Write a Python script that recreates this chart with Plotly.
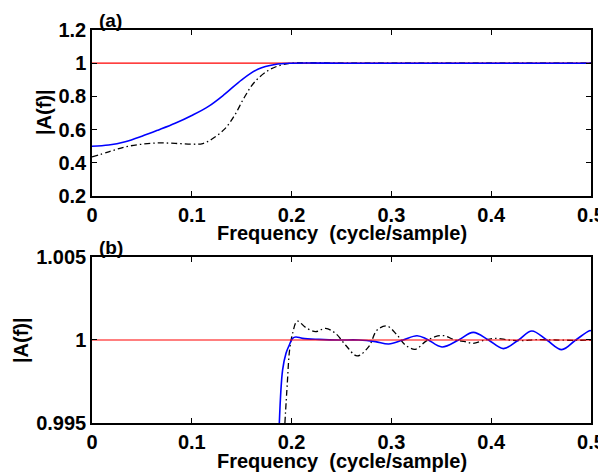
import plotly.graph_objects as go
from plotly.subplots import make_subplots

# ---- data: panel (a) ----
fa_blue = [0.0, 0.0167, 0.0333, 0.05, 0.0667, 0.0833, 0.1, 0.1167, 0.1333, 0.15, 0.1667, 0.1833, 0.2, 0.25, 0.3, 0.4, 0.5]
a_blue = [0.500, 0.507, 0.527, 0.560, 0.598, 0.638, 0.685, 0.740, 0.815, 0.900, 0.965, 0.992, 1.0, 1.0, 1.0, 1.0, 1.0]
fa_black = [0.0, 0.0167, 0.0333, 0.05, 0.0667, 0.0833, 0.1, 0.111, 0.121, 0.1333, 0.143, 0.153, 0.163, 0.177, 0.19, 0.2, 0.25, 0.3, 0.4, 0.5]
a_black = [0.435, 0.466, 0.496, 0.512, 0.520, 0.517, 0.512, 0.516, 0.546, 0.606, 0.687, 0.798, 0.887, 0.958, 0.990, 1.0, 1.0, 1.0, 1.0, 1.0]

# ---- data: panel (b) (zoom near 1) ----
fb_blue = [0.1877, 0.191, 0.1944, 0.1977, 0.201, 0.2043, 0.211, 0.2273, 0.2473, 0.2673, 0.284, 0.2973,
           0.3115, 0.3257, 0.3357, 0.3507, 0.3673, 0.382, 0.3973, 0.4123, 0.4273, 0.4407, 0.4557, 0.4707,
           0.4847, 0.4985, 0.5]
b_blue = [0.9950, 0.9982, 0.9992, 0.9997, 1.0001, 1.00018, 1.0001, 1.00004, 1.00000, 1.00000, 0.99990, 0.99976,
          1.0000, 1.00026, 1.00005, 0.99958, 1.00000, 1.00046, 1.00000, 0.99948, 1.00000, 1.00054, 1.00000, 0.99942,
          1.00000, 1.00056, 1.00055]
fb_black = [0.1933, 0.1957, 0.198, 0.201, 0.2057, 0.214, 0.224, 0.234, 0.244, 0.254, 0.2657, 0.2773, 0.2857,
            0.2957, 0.3057, 0.314, 0.324, 0.334, 0.344, 0.3527, 0.3637, 0.3737, 0.382, 0.394, 0.404, 0.4177,
            0.431, 0.4443, 0.4643, 0.4843, 0.5]
b_black = [0.9950, 0.9974, 0.9994, 1.0004, 1.00114, 1.00076, 1.0005, 1.0007, 1.0004, 0.9997, 0.99904, 0.9996, 1.0006,
           1.00084, 1.0003, 0.9997, 0.99944, 0.9999, 1.0002, 1.00026, 1.0000, 0.9999, 0.9998, 1.0000, 1.0001, 1.0000,
           0.99996, 1.00002, 1.0, 0.99998, 1.0]

ref_f = [0.0, 0.5]
ref_v = [1.0, 1.0]

xticks = [0, 0.1, 0.2, 0.3, 0.4, 0.5]
xticktext = ["<b>0</b>", "<b>0.1</b>", "<b>0.2</b>", "<b>0.3</b>", "<b>0.4</b>", "<b>0.5</b>"]
ya_ticks = [0.2, 0.4, 0.6, 0.8, 1.0, 1.2]
ya_text = ["<b>0.2</b>", "<b>0.4</b>", "<b>0.6</b>", "<b>0.8</b>", "<b>1</b>", "<b>1.2</b>"]
yb_ticks = [0.995, 1.0, 1.005]
yb_text = ["<b>0.995</b>", "<b>1</b>", "<b>1.005</b>"]

FONT = "Liberation Sans, Arial, sans-serif"
DASHDOT = "6px,3px,1.5px,3px"

# the page body has an 8px default margin, so the figure is 8px smaller
W, H = 598, 464
OFF = 8

fig = make_subplots(rows=2, cols=1, vertical_spacing=0.155)

# panel (a)
fig.add_trace(go.Scatter(x=ref_f, y=ref_v, mode="lines", line=dict(color="red", width=1.2)), row=1, col=1)
fig.add_trace(go.Scatter(x=fa_black, y=a_black, mode="lines", line=dict(color="black", width=1.3, dash=DASHDOT, shape="spline")), row=1, col=1)
fig.add_trace(go.Scatter(x=fa_blue, y=a_blue, mode="lines", line=dict(color="blue", width=1.6, shape="spline")), row=1, col=1)

# panel (b)
fig.add_trace(go.Scatter(x=fb_black, y=b_black, mode="lines", line=dict(color="black", width=1.3, dash=DASHDOT, shape="spline")), row=2, col=1)
fig.add_trace(go.Scatter(x=fb_blue, y=b_blue, mode="lines", line=dict(color="blue", width=1.6, shape="spline")), row=2, col=1)
fig.add_trace(go.Scatter(x=ref_f, y=ref_v, mode="lines", line=dict(color="red", width=1.2)), row=2, col=1)

axis_common = dict(showgrid=False, zeroline=False, showline=True, linecolor="black", linewidth=1.5,
                   mirror="ticks", ticks="inside", ticklen=5, tickwidth=1, tickcolor="black",
                   automargin=False,
                   tickfont=dict(family=FONT, size=20, color="black"))

fig.update_xaxes(range=[0, 0.5], tickvals=xticks, ticktext=xticktext, **axis_common)
fig.update_yaxes(**axis_common)
fig.update_yaxes(range=[0.2, 1.2], tickvals=ya_ticks, ticktext=ya_text, row=1, col=1)
fig.update_yaxes(range=[0.995, 1.005], tickvals=yb_ticks, ticktext=yb_text, row=2, col=1)

fig.update_layout(
    width=W, height=H,
    margin=dict(l=92 - OFF, r=15, t=30 - OFF, b=49, autoexpand=False),
    plot_bgcolor="white", paper_bgcolor="white",
    showlegend=False,
    font=dict(family=FONT, color="black"),
)
fig.layout.yaxis.domain = [0.5776, 1.0]
fig.layout.yaxis2.domain = [0.0, 0.4224]


def px(xp):
    return (xp - 92) / 499


def py(yp):
    return (423 - yp) / 393


fig.add_annotation(text="<b>(a)</b>", xref="paper", yref="paper", x=px(97), y=py(20),
                   xanchor="left", yanchor="middle", showarrow=False,
                   font=dict(family=FONT, size=19, color="black"))
fig.add_annotation(text="<b>(b)</b>", xref="paper", yref="paper", x=px(97), y=py(248),
                   xanchor="left", yanchor="middle", showarrow=False,
                   font=dict(family=FONT, size=19, color="black"))
for yc in (233, 461):
    fig.add_annotation(text="<b>Frequency  (cycle/sample)</b>", xref="paper", yref="paper",
                       x=px(342), y=py(yc), xanchor="center", yanchor="middle",
                       showarrow=False, font=dict(family=FONT, size=20, color="black"))
for (xc, yc) in ((44, 112), (21, 340)):
    fig.add_annotation(text="<b>|A(f)|</b>", xref="paper", yref="paper",
                       x=px(xc), y=py(yc), xanchor="center", yanchor="middle",
                       textangle=-90, showarrow=False, font=dict(family=FONT, size=20, color="black"))

fig.write_html("out.html")
